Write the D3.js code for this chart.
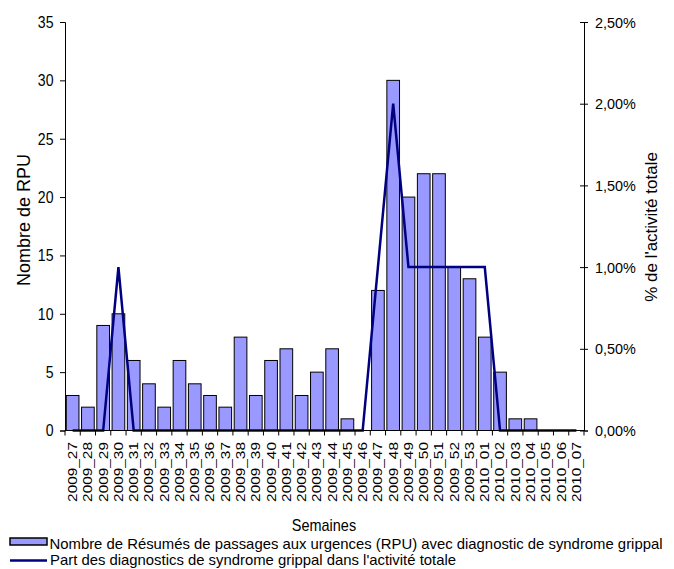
<!DOCTYPE html>
<html><head><meta charset="utf-8">
<script src="https://cdn.jsdelivr.net/npm/d3@7"></script>
<style>body{margin:0;background:#fff}text{font-family:"Liberation Sans",Arial,sans-serif;fill:#000}</style>
</head><body><svg id="c" width="674" height="569"></svg>
<script>
const weeks = ["2009_27","2009_28","2009_29","2009_30","2009_31","2009_32","2009_33","2009_34","2009_35","2009_36","2009_37","2009_38","2009_39","2009_40","2009_41","2009_42","2009_43","2009_44","2009_45","2009_46","2009_47","2009_48","2009_49","2009_50","2009_51","2009_52","2009_53","2010_01","2010_02","2010_03","2010_04","2010_05","2010_06","2010_07"];
const rpu = [3,2,9,10,6,4,2,6,4,3,2,8,3,6,7,3,5,7,1,0,12,30,20,22,22,14,13,8,5,1,1,0,0,0];
const pct = [0,0,0,1.0,0,0,0,0,0,0,0,0,0,0,0,0,0,0,0,0,1.0,2.0,1.0,1.0,1.0,1.0,1.0,1.0,0,0,0,0,0,0];
const leftTicks = [0,5,10,15,20,25,30,35];
const rightTicks = [0,0.5,1,1.5,2,2.5];
const labels = {
  yLeft: "Nombre de RPU",
  yRight: "% de l'activité totale",
  x: "Semaines",
  bar: "Nombre de Résumés de passages aux urgences (RPU) avec diagnostic de syndrome grippal",
  line: "Part des diagnostics de syndrome grippal dans l'activité totale"
};

const svg = d3.select("#c");
const L = 65, R = 584, T = 22, B = 430.5;
const x = d3.scaleBand().domain(weeks).range([L, R]).paddingInner(0.17).paddingOuter(0.085);
const xb = d3.scaleBand().domain(weeks).range([L, R]);
const y = d3.scaleLinear().domain([0, 35]).range([B, T]);
const y2 = d3.scaleLinear().domain([0, 2.5]).range([B, T]);

function squeeze(sel, k) {
  sel.each(function () {
    const w = this.getComputedTextLength();
    this.setAttribute("textLength", (w * k).toFixed(2));
    this.setAttribute("lengthAdjust", "spacingAndGlyphs");
  });
}

// bars
svg.append("g").selectAll("rect").data(rpu).join("rect")
  .attr("x", (d,i) => x(weeks[i]))
  .attr("y", d => y(d))
  .attr("width", x.bandwidth())
  .attr("height", d => B - y(d))
  .attr("fill", "#9999ff").attr("stroke", "#000").attr("stroke-width", 1);

// line
const line = d3.line().x((d,i) => xb(weeks[i]) + xb.bandwidth()/2).y(d => y2(d));
svg.append("path").datum(pct).attr("d", line)
  .attr("fill", "none").attr("stroke", "#000080").attr("stroke-width", 2.5).attr("stroke-linejoin","miter");

// left axis
const gl = svg.append("g").attr("transform", `translate(${L},0)`)
  .call(d3.axisLeft(y).tickValues(leftTicks).tickSize(5).tickPadding(6.5));
gl.selectAll("text").style("font-size", "16px").attr("dy", "0.34em");
squeeze(gl.selectAll("text"), 0.88);
// right axis
const fmt = v => d3.format(".2f")(v).replace(".", ",") + "%";
const gr = svg.append("g").attr("transform", `translate(${R},0)`)
  .call(d3.axisRight(y2).tickValues(rightTicks).tickFormat(fmt).tickSize(4).tickPadding(7));
gr.selectAll(".tick line").attr("x1", -4);
gr.selectAll("text").style("font-size", "15px").attr("dy", "0.34em");
squeeze(gr.selectAll("text"), 0.96);
svg.selectAll(".domain").attr("stroke", "#000");
svg.selectAll(".tick line").attr("stroke", "#000");

// x axis
const gx = svg.append("g");
gx.append("line").attr("x1", L).attr("x2", R).attr("y1", B).attr("y2", B).attr("stroke", "#000");
gx.selectAll("line.t").data(weeks.concat(["end"])).join("line").attr("class","t")
  .attr("x1", (d,i) => L + i*xb.step()).attr("x2", (d,i) => L + i*xb.step())
  .attr("y1", B).attr("y2", B + 5).attr("stroke", "#000");
gx.selectAll("text").data(weeks).join("text")
  .attr("transform", d => `translate(${xb(d) + xb.bandwidth()/2},${B + 11.5}) rotate(-90) scale(1,0.8)`)
  .attr("dy", "0.36em").attr("text-anchor", "end").style("font-size", "15.4px")
  .text(d => d);

// titles
svg.append("text").attr("transform", `translate(29.5,220) rotate(-90)`)
  .attr("text-anchor", "middle").style("font-size", "18px").text(labels.yLeft);
svg.append("text").attr("transform", `translate(657,227) rotate(-90)`)
  .attr("text-anchor", "middle").style("font-size", "17px").text(labels.yRight);
const sx = svg.append("text").attr("x", 324).attr("y", 531).attr("text-anchor", "middle").style("font-size", "17px").text(labels.x);
squeeze(sx, 0.85);

// legend
svg.append("rect").attr("x", 10).attr("y", 538).attr("width", 37).attr("height", 7)
  .attr("fill", "#9999ff").attr("stroke", "#000").attr("stroke-width", 1.5);
const l1 = svg.append("text").attr("x", 49.5).attr("y", 548.5).style("font-size", "15px").text(labels.bar);
l1.attr("textLength", 613).attr("lengthAdjust", "spacingAndGlyphs");
svg.append("line").attr("x1", 10).attr("x2", 47).attr("y1", 560.5).attr("y2", 560.5).attr("stroke", "#000080").attr("stroke-width", 2.5);
const l2 = svg.append("text").attr("x", 50).attr("y", 565).style("font-size", "15px").text(labels.line);
l2.attr("textLength", 406).attr("lengthAdjust", "spacingAndGlyphs");
</script></body></html>
